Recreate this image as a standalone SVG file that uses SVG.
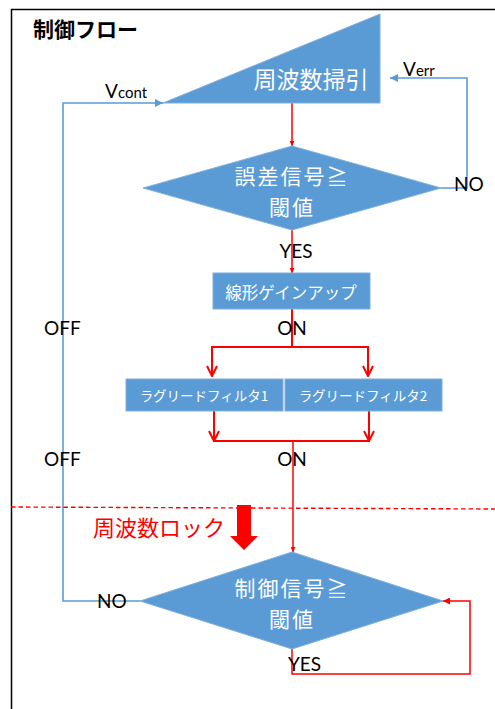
<svg xmlns="http://www.w3.org/2000/svg" width="495" height="709" viewBox="0 0 495 709">
<defs>
<style>
.shape{fill:#5B9BD5;stroke:#7FAEDD;stroke-width:1}
.jw{font-family:"Noto Sans CJK JP","Noto Sans",sans-serif;fill:#FFFFFF;text-anchor:middle}
.lbl{font-family:Lato,"Liberation Sans",sans-serif;fill:#000000;font-size:19px}
.red{stroke:#FF0000;stroke-width:1.5;fill:none}
.red2{stroke:#FF0000;stroke-width:2;fill:none}
.blue{stroke:#5B9BD5;stroke-width:1.6;fill:none}
</style>
<marker id="rt" viewBox="0 0 10 10" refX="10" refY="5" markerWidth="5" markerHeight="5" orient="auto" markerUnits="userSpaceOnUse">
<path d="M0,0 L10,5 L0,10 z" fill="#FF0000"/>
</marker>
<marker id="rtb" viewBox="0 0 10 10" refX="10" refY="5" markerWidth="7" markerHeight="7" orient="auto" markerUnits="userSpaceOnUse">
<path d="M0,0 L10,5 L0,10 z" fill="#FF0000"/>
</marker>
<marker id="rv" viewBox="0 0 12 12" refX="11" refY="6" markerWidth="12" markerHeight="12" orient="auto" markerUnits="userSpaceOnUse">
<path d="M1,1 L11,6 L1,11" fill="none" stroke="#FF0000" stroke-width="2"/>
</marker>
<marker id="bt" viewBox="0 0 10 10" refX="10" refY="5" markerWidth="8" markerHeight="8" orient="auto" markerUnits="userSpaceOnUse">
<path d="M0,0 L10,5 L0,10 z" fill="#5B9BD5"/>
</marker>
</defs>
<rect width="495" height="709" fill="#FFFFFF"/>
<path d="M11.5,709 L11.5,9.5 L495,9.5" fill="none" stroke="#000000" stroke-width="1.5"/>
<text x="33" y="37" font-family="'Noto Sans CJK JP',sans-serif" font-weight="bold" font-size="21" fill="#000000">制御フロー</text>

<g id="connectors">
<line class="red" x1="292" y1="103" x2="292" y2="146" marker-end="url(#rt)"/>
<line class="red" x1="292" y1="230" x2="292" y2="273" marker-end="url(#rt)"/>
<polyline class="red2" points="292,309 292,347"/>
<polyline class="red2" points="212,376 212,347 368,347 368,376"/>
<line x1="212" y1="360" x2="212" y2="376" class="red2" marker-end="url(#rv)"/>
<line x1="368" y1="360" x2="368" y2="376" class="red2" marker-end="url(#rv)"/>
<polyline class="red2" points="214,411 214,441 369,441 369,411"/>
<line x1="214" y1="425" x2="214" y2="441" class="red2" marker-end="url(#rv)"/>
<line x1="369" y1="425" x2="369" y2="441" class="red2" marker-end="url(#rv)"/>
<line class="red" x1="293" y1="441" x2="293" y2="552" marker-end="url(#rt)"/>
<polyline class="red" points="292,649 292,674 470,674 470,601 443,601" marker-end="url(#rtb)"/>
<polyline class="blue" points="140,601 63,601 63,103 163,103" marker-end="url(#bt)"/>
<polyline class="blue" points="441,188 467,188 467,78 390,78" marker-end="url(#bt)"/>
</g>

<line x1="11" y1="507" x2="495" y2="509" stroke="#FF0000" stroke-width="1.4" stroke-dasharray="4.5,3"/>
<path d="M237,505 L251,505 L251,536 L258,536 L244,550 L230,536 L237,536 Z" fill="#FF0000"/>
<text x="93" y="536" font-family="'Noto Sans CJK JP',sans-serif" font-size="22" fill="#FF0000">周波数ロック</text>

<g id="sweep">
<polygon class="shape" points="163,103 380,14 380,103"/>
<text class="jw" x="311" y="88" font-size="23">周波数掃引</text>
</g>
<g id="err-decision">
<polygon class="shape" points="143,188 292,146 441,188 292,230"/>
<text class="jw" x="292" y="184" font-size="21" letter-spacing="2">誤差信号≧<tspan x="292" dy="31">閾値</tspan></text>
</g>
<g id="gain-up">
<rect class="shape" x="213" y="273" width="157" height="36"/>
<text class="jw" x="291" y="299" font-size="16.5">線形ゲインアップ</text>
</g>
<g id="filter1">
<rect class="shape" x="126" y="379" width="157" height="32"/>
<text class="jw" x="204" y="401" font-size="13.5">ラグリードフィルタ1</text>
</g>
<g id="filter2">
<rect class="shape" x="285" y="379" width="157" height="32"/>
<text class="jw" x="363" y="401" font-size="13.5">ラグリードフィルタ2</text>
</g>
<g id="ctrl-decision">
<polygon class="shape" points="140,601 292,552 443,601 292,649"/>
<text class="jw" x="292" y="596" font-size="21" letter-spacing="2">制御信号≧<tspan x="292" dy="31">閾値</tspan></text>
</g>

<g id="labels">
<text class="lbl" x="105" y="98" font-size="19">V<tspan font-size="15">cont</tspan></text>
<text class="lbl" x="403" y="76" font-size="19">V<tspan font-size="15">err</tspan></text>
<text class="lbl" x="454" y="191">NO</text>
<text class="lbl" x="296" y="258" text-anchor="middle">YES</text>
<text class="lbl" x="292" y="335" text-anchor="middle">ON</text>
<text class="lbl" x="44" y="335">OFF</text>
<text class="lbl" x="292" y="466" text-anchor="middle">ON</text>
<text class="lbl" x="44" y="466">OFF</text>
<text class="lbl" x="97" y="608">NO</text>
<text class="lbl" x="288" y="671">YES</text>
</g>
</svg>
